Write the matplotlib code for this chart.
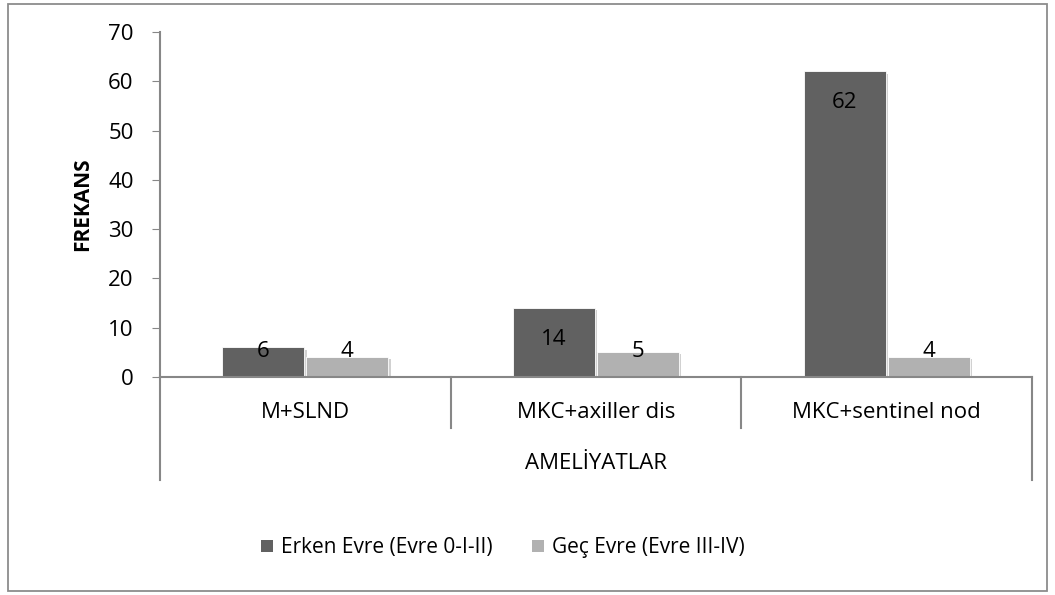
import numpy as np
import matplotlib.pyplot as plt
import matplotlib.patheffects as pe
from matplotlib.patches import Rectangle, Patch
from matplotlib.transforms import blended_transform_factory

plt.rcParams['font.family'] = ['Open Sans', 'DejaVu Sans']

# veriler
kategoriler = ['M+SLND', 'MKC+axiller dis', 'MKC+sentinel nod']
erken = [6, 14, 62]
gec = [4, 5, 4]
seriler = ['Erken Evre (Evre 0-I-II)', 'Geç Evre (Evre III-IV)']
yticks = [0, 10, 20, 30, 40, 50, 60, 70]

koyu = '#616161'
acik = '#b1b1b1'
eksen = '#878787'

W, H = 1055, 595
fig = plt.figure(figsize=(W / 100, H / 100), dpi=100)

# dis cerceve
fig.patches.append(Rectangle((8 / W, 4 / H), 1039 / W, 587 / H, transform=fig.transFigure,
                             fill=False, edgecolor='#8c8c8c', lw=1.3))

ax = fig.add_axes([160 / W, 218 / H, 872 / W, 345 / H])

x = np.arange(len(kategoriler))
w = 0.283
golge = [pe.SimplePatchShadow(offset=(1.5, -1.5), shadow_rgbFace='#000000', alpha=0.18), pe.Normal()]
b1 = ax.bar(x - w / 2 - 0.003, erken, w, color=koyu, edgecolor='white', lw=0.6, path_effects=golge)
b2 = ax.bar(x + w / 2 + 0.003, gec, w, color=acik, edgecolor='white', lw=0.6, path_effects=golge)

# deger etiketleri (ic uc)
for bars, vals in ((b1, erken), (b2, gec)):
    for b, v in zip(bars, vals):
        yy = max(v - 6.3, 5.2)
        ax.text(b.get_x() + b.get_width() / 2, yy, str(v), ha='center', va='center',
                fontsize=16, color='black')

ax.set_xlim(-0.5, 2.5)
ax.set_ylim(0, 70)
ax.set_yticks(yticks)
ax.tick_params(axis='y', direction='out', length=6, color=eksen, labelsize=16, pad=13)
ax.set_xticks([])
for s in ['top', 'right']:
    ax.spines[s].set_visible(False)
ax.spines['left'].set_color(eksen)
ax.spines['bottom'].set_color(eksen)
ax.spines['left'].set_linewidth(1.5)
ax.spines['bottom'].set_linewidth(1.5)

ax.set_ylabel('FREKANS', fontsize=15, fontweight='bold', labelpad=11)

# kategori ekseni: ayirici cizgiler ve etiketler
tr = blended_transform_factory(ax.transData, ax.transAxes)
for xs in [0.5, 1.5]:
    ax.plot([xs, xs], [0, -0.148], transform=tr, color=eksen, lw=1.5, clip_on=False)
for xs in [-0.5, 2.5]:
    ax.plot([xs, xs], [0, -0.298], transform=tr, color=eksen, lw=1.5, clip_on=False)
for xi, k in zip(x, kategoriler):
    ax.text(xi, -0.103, k, transform=tr, ha='center', va='center', fontsize=16)
ax.text(1, -0.25, 'AMELİYATLAR', transform=tr, ha='center', va='center', fontsize=16)

tutamaclar = [Patch(facecolor=koyu), Patch(facecolor=acik)]
fig.legend(tutamaclar, seriler, loc='center', bbox_to_anchor=(503 / W, 1 - 548 / H),
           ncol=2, frameon=False, fontsize=15, handlelength=0.55, handleheight=0.55,
           handletextpad=0.4, columnspacing=1.9)

fig.savefig('out.png', dpi=100)
